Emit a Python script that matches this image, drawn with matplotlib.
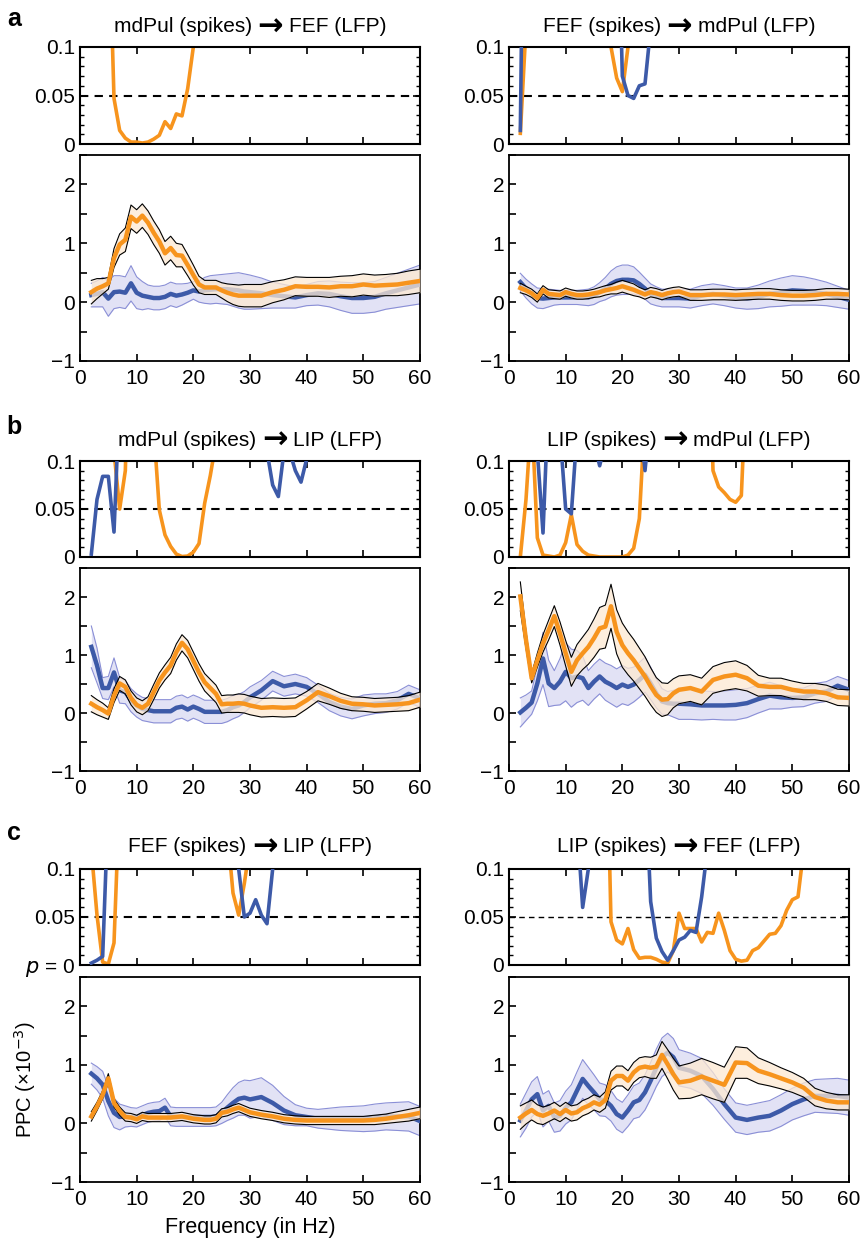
import numpy as np
import matplotlib
matplotlib.use("Agg")
import matplotlib.pyplot as plt
from matplotlib.ticker import MultipleLocator
from matplotlib.offsetbox import TextArea, HPacker, AnchoredOffsetbox

plt.rcParams["font.family"] = ["Liberation Sans", "DejaVu Sans"]

# frequency grid of the PPC spectra (Hz)
FREQ = list(range(2, 31)) + list(range(32, 61, 2))

# ---- PPC (x10^-3): mean and half width of the band, blue / orange ----
AL_BLUE = [0.12, 0.14, 0.17, 0.06, 0.17, 0.18, 0.16, 0.32, 0.16, 0.11, 0.09, 0.07, 0.07, 0.09, 0.14,
           0.11, 0.13, 0.16, 0.20, 0.18, 0.20, 0.21, 0.22, 0.22, 0.22, 0.21, 0.20, 0.18, 0.17,
           0.15, 0.12, 0.10, 0.08, 0.12, 0.15, 0.14, 0.10, 0.07, 0.07, 0.09, 0.15, 0.20, 0.25, 0.30]
AL_BLUE_HW = [0.20, 0.22, 0.25, 0.30, 0.28, 0.27, 0.27, 0.30, 0.27, 0.24, 0.20, 0.20, 0.20, 0.20, 0.20,
              0.20, 0.18, 0.16, 0.15, 0.18, 0.22, 0.24, 0.24, 0.25, 0.26, 0.28, 0.30, 0.30, 0.29,
              0.26, 0.22, 0.20, 0.18, 0.18, 0.20, 0.22, 0.24, 0.26, 0.26, 0.26, 0.27, 0.29, 0.31, 0.33]
AL_ORANGE = [0.17, 0.23, 0.27, 0.32, 0.75, 0.98, 1.06, 1.45, 1.37, 1.47, 1.35, 1.18, 1.03, 0.83, 0.92,
             0.80, 0.79, 0.63, 0.46, 0.30, 0.25, 0.25, 0.25, 0.20, 0.16, 0.13, 0.11, 0.11, 0.11,
             0.11, 0.17, 0.21, 0.27, 0.26, 0.26, 0.25, 0.27, 0.27, 0.30, 0.28, 0.29, 0.30, 0.33, 0.36]
AL_ORANGE_HW = [0.20, 0.17, 0.13, 0.10, 0.16, 0.18, 0.20, 0.20, 0.20, 0.20, 0.20, 0.20, 0.20, 0.20, 0.20,
                0.20, 0.19, 0.18, 0.17, 0.14, 0.12, 0.12, 0.12, 0.13, 0.15, 0.17, 0.18, 0.19, 0.19,
                0.19, 0.18, 0.17, 0.16, 0.16, 0.16, 0.17, 0.17, 0.18, 0.18, 0.18, 0.18, 0.19, 0.20, 0.20]

AR_BLUE = [0.34, 0.23, 0.14, 0.07, 0.06, 0.07, 0.08, 0.08, 0.08, 0.08, 0.08, 0.08, 0.08, 0.11, 0.17,
           0.23, 0.31, 0.36, 0.38, 0.38, 0.37, 0.31, 0.23, 0.14, 0.10, 0.07, 0.07, 0.07, 0.07,
           0.06, 0.11, 0.14, 0.11, 0.07, 0.06, 0.09, 0.14, 0.17, 0.20, 0.19, 0.17, 0.14, 0.09, 0.04]
AR_BLUE_HW = [0.15, 0.16, 0.17, 0.17, 0.17, 0.15, 0.13, 0.12, 0.12, 0.12, 0.12, 0.13, 0.14, 0.15, 0.16,
              0.19, 0.22, 0.24, 0.25, 0.25, 0.23, 0.20, 0.18, 0.17, 0.16, 0.15, 0.15, 0.15, 0.15,
              0.16, 0.17, 0.17, 0.17, 0.17, 0.18, 0.20, 0.22, 0.24, 0.25, 0.24, 0.22, 0.20, 0.18, 0.16]
AR_ORANGE = [0.24, 0.20, 0.15, 0.07, 0.21, 0.14, 0.13, 0.12, 0.17, 0.14, 0.12, 0.12, 0.13, 0.15, 0.17,
             0.20, 0.22, 0.24, 0.27, 0.24, 0.21, 0.17, 0.13, 0.17, 0.15, 0.12, 0.15, 0.17, 0.18,
             0.12, 0.12, 0.13, 0.13, 0.12, 0.13, 0.14, 0.14, 0.12, 0.11, 0.11, 0.12, 0.14, 0.14, 0.13]
AR_ORANGE_HW = [0.08, 0.07, 0.07, 0.07, 0.07, 0.07, 0.07, 0.07, 0.07, 0.07, 0.07, 0.07, 0.07, 0.07, 0.08,
                0.08, 0.08, 0.10, 0.10, 0.10, 0.10, 0.08, 0.08, 0.08, 0.08, 0.08, 0.08, 0.08, 0.08,
                0.09, 0.09, 0.09, 0.09, 0.09, 0.09, 0.09, 0.09, 0.09, 0.09, 0.09, 0.09, 0.09, 0.09, 0.09]

BL_BLUE = [1.14, 0.82, 0.43, 0.43, 0.70, 0.39, 0.36, 0.22, 0.13, 0.07, 0.05, 0.03, 0.03, 0.03, 0.03,
           0.09, 0.11, 0.06, 0.11, 0.07, 0.02, 0.02, 0.02, 0.02, 0.05, 0.10, 0.13, 0.19, 0.27,
           0.39, 0.55, 0.46, 0.50, 0.45, 0.33, 0.19, 0.11, 0.07, 0.13, 0.16, 0.17, 0.22, 0.33, 0.25]
BL_BLUE_HW = [0.36, 0.30, 0.18, 0.20, 0.25, 0.22, 0.20, 0.20, 0.20, 0.20, 0.20, 0.20, 0.20, 0.20, 0.20,
              0.20, 0.20, 0.20, 0.20, 0.20, 0.20, 0.20, 0.20, 0.20, 0.20, 0.20, 0.19, 0.18, 0.18,
              0.17, 0.17, 0.17, 0.17, 0.16, 0.15, 0.15, 0.16, 0.17, 0.18, 0.17, 0.16, 0.15, 0.15, 0.15]
BL_ORANGE = [0.16, 0.10, 0.05, -0.01, 0.30, 0.51, 0.45, 0.26, 0.14, 0.09, 0.16, 0.36, 0.56, 0.70, 0.82,
             1.05, 1.21, 1.10, 0.90, 0.70, 0.53, 0.43, 0.33, 0.15, 0.16, 0.16, 0.17, 0.16, 0.13,
             0.09, 0.10, 0.09, 0.10, 0.22, 0.36, 0.29, 0.21, 0.16, 0.15, 0.13, 0.14, 0.15, 0.17, 0.23]
BL_ORANGE_HW = [0.14, 0.13, 0.12, 0.10, 0.12, 0.12, 0.12, 0.12, 0.12, 0.12, 0.12, 0.13, 0.13, 0.13, 0.14,
                0.14, 0.14, 0.15, 0.15, 0.15, 0.15, 0.15, 0.15, 0.15, 0.15, 0.15, 0.16, 0.16, 0.16,
                0.16, 0.16, 0.16, 0.16, 0.15, 0.15, 0.14, 0.13, 0.12, 0.12, 0.12, 0.12, 0.12, 0.13, 0.13]

BR_BLUE = [0.01, 0.09, 0.18, 0.51, 0.94, 0.51, 0.43, 0.54, 0.71, 0.60, 0.63, 0.60, 0.43, 0.54, 0.63,
           0.54, 0.49, 0.43, 0.49, 0.45, 0.49, 0.57, 0.66, 0.51, 0.34, 0.20, 0.17, 0.16, 0.16,
           0.15, 0.13, 0.13, 0.13, 0.14, 0.17, 0.24, 0.30, 0.27, 0.26, 0.27, 0.34, 0.37, 0.47, 0.40]
BR_BLUE_HW = [0.25, 0.22, 0.20, 0.30, 0.45, 0.40, 0.30, 0.40, 0.50, 0.50, 0.45, 0.38, 0.30, 0.30, 0.30,
              0.32, 0.33, 0.33, 0.33, 0.32, 0.30, 0.30, 0.30, 0.28, 0.25, 0.22, 0.20, 0.23, 0.27,
              0.26, 0.25, 0.24, 0.25, 0.26, 0.25, 0.24, 0.23, 0.20, 0.16, 0.16, 0.17, 0.17, 0.16, 0.16]
BR_ORANGE = [2.01, 1.26, 0.60, 0.91, 1.20, 1.43, 1.67, 1.37, 1.03, 0.71, 0.91, 1.03, 1.14, 1.29, 1.46,
             1.49, 1.84, 1.40, 1.17, 1.03, 0.91, 0.77, 0.63, 0.46, 0.31, 0.23, 0.24, 0.34, 0.40,
             0.43, 0.37, 0.57, 0.63, 0.66, 0.60, 0.47, 0.45, 0.45, 0.40, 0.37, 0.37, 0.34, 0.27, 0.26]
BR_ORANGE_HW = [0.25, 0.15, 0.08, 0.12, 0.15, 0.17, 0.18, 0.20, 0.22, 0.25, 0.27, 0.28, 0.30, 0.33, 0.36,
                0.37, 0.38, 0.38, 0.38, 0.37, 0.36, 0.35, 0.34, 0.32, 0.30, 0.29, 0.27, 0.25, 0.24,
                0.23, 0.23, 0.23, 0.24, 0.24, 0.22, 0.18, 0.15, 0.15, 0.15, 0.14, 0.14, 0.14, 0.14, 0.14]

CL_BLUE = [0.85, 0.77, 0.66, 0.38, 0.18, 0.11, 0.12, 0.11, 0.10, 0.14, 0.18, 0.20, 0.21, 0.27, 0.12,
           0.11, 0.11, 0.11, 0.11, 0.11, 0.11, 0.11, 0.12, 0.18, 0.27, 0.35, 0.42, 0.44, 0.41,
           0.45, 0.35, 0.22, 0.14, 0.11, 0.08, 0.08, 0.08, 0.08, 0.08, 0.10, 0.12, 0.12, 0.12, 0.04]
CL_BLUE_HW = [0.18, 0.20, 0.23, 0.25, 0.25, 0.22, 0.18, 0.16, 0.16, 0.16, 0.16, 0.16, 0.16, 0.16, 0.16,
              0.16, 0.16, 0.16, 0.16, 0.16, 0.16, 0.16, 0.16, 0.18, 0.22, 0.26, 0.28, 0.30, 0.32,
              0.33, 0.30, 0.24, 0.18, 0.15, 0.16, 0.18, 0.20, 0.21, 0.22, 0.23, 0.23, 0.24, 0.25, 0.25]
CL_ORANGE = [0.12, 0.29, 0.49, 0.77, 0.35, 0.21, 0.11, 0.10, 0.07, 0.12, 0.10, 0.10, 0.10, 0.10, 0.10,
             0.11, 0.12, 0.10, 0.08, 0.07, 0.06, 0.06, 0.08, 0.18, 0.20, 0.24, 0.27, 0.23, 0.19,
             0.15, 0.12, 0.08, 0.06, 0.05, 0.05, 0.05, 0.05, 0.05, 0.05, 0.06, 0.08, 0.11, 0.14, 0.18]
CL_ORANGE_HW = [0.08, 0.07, 0.07, 0.08, 0.07, 0.07, 0.07, 0.07, 0.07, 0.07, 0.07, 0.07, 0.07, 0.07, 0.07,
                0.07, 0.07, 0.07, 0.07, 0.07, 0.07, 0.07, 0.07, 0.07, 0.07, 0.07, 0.07, 0.07, 0.07,
                0.07, 0.07, 0.07, 0.07, 0.07, 0.07, 0.07, 0.07, 0.07, 0.07, 0.08, 0.08, 0.09, 0.10, 0.10]

CR_BLUE = [0.05, 0.22, 0.41, 0.50, 0.22, 0.30, 0.10, 0.13, 0.27, 0.36, 0.56, 0.76, 0.64, 0.53, 0.41,
           0.39, 0.30, 0.16, 0.10, 0.22, 0.36, 0.40, 0.53, 0.73, 0.95, 1.13, 1.21, 1.13, 0.95,
           0.90, 0.81, 0.59, 0.33, 0.10, 0.06, 0.10, 0.13, 0.22, 0.33, 0.41, 0.47, 0.47, 0.47, 0.44]
CR_BLUE_HW = [0.28, 0.30, 0.30, 0.30, 0.28, 0.26, 0.25, 0.26, 0.28, 0.30, 0.32, 0.33, 0.32, 0.30, 0.28,
              0.27, 0.26, 0.26, 0.26, 0.27, 0.28, 0.29, 0.30, 0.31, 0.32, 0.33, 0.33, 0.32, 0.31,
              0.30, 0.30, 0.28, 0.26, 0.25, 0.25, 0.25, 0.26, 0.27, 0.27, 0.28, 0.28, 0.29, 0.30, 0.30]
CR_ORANGE = [0.10, 0.17, 0.23, 0.16, 0.13, 0.17, 0.22, 0.16, 0.23, 0.17, 0.19, 0.26, 0.30, 0.36, 0.32,
             0.40, 0.73, 0.81, 0.81, 0.73, 0.87, 0.95, 0.97, 0.95, 0.97, 1.17, 1.01, 0.84, 0.70,
             0.73, 0.80, 0.73, 0.66, 1.04, 1.03, 0.90, 0.84, 0.77, 0.70, 0.61, 0.45, 0.39, 0.36, 0.36]
CR_ORANGE_HW = [0.20, 0.18, 0.17, 0.16, 0.15, 0.14, 0.14, 0.13, 0.13, 0.13, 0.13, 0.13, 0.13, 0.13, 0.13,
                0.14, 0.16, 0.17, 0.17, 0.17, 0.17, 0.17, 0.17, 0.18, 0.20, 0.23, 0.25, 0.27, 0.28,
                0.30, 0.31, 0.31, 0.30, 0.27, 0.26, 0.22, 0.20, 0.18, 0.17, 0.16, 0.15, 0.14, 0.13, 0.13]

# ---- p-values (points above 0.1 fall outside the axis) ----
PAL_BLUE_F, PAL_BLUE = [], []
PAL_ORANGE_F = list(range(5, 22))
PAL_ORANGE = [0.25, 0.047, 0.014, 0.006, 0.002, 0.002, 0.001, 0.002, 0.005, 0.009, 0.023, 0.016,
              0.031, 0.029, 0.057, 0.1, 0.3]

PAR_BLUE_F = [2, 3, 19, 20, 21, 22, 23, 24, 25, 26]
PAR_BLUE = [0.014, 0.5, 0.3, 0.07, 0.05, 0.047, 0.06, 0.062, 0.12, 0.5]
PAR_ORANGE_F = [2, 3, 4, 17, 18, 19, 20, 21, 22]
PAR_ORANGE = [0.011, 0.12, 0.5, 0.3, 0.1, 0.068, 0.054, 0.1, 0.3]

PBL_BLUE_F = [2, 3, 4, 5, 6, 7, 32, 33, 34, 35, 36, 37, 38, 39, 40, 41]
PBL_BLUE = [0.003, 0.06, 0.084, 0.084, 0.026, 0.17, 0.3, 0.11, 0.075, 0.063, 0.11, 0.11, 0.09,
            0.078, 0.102, 0.3]
PBL_ORANGE_F = [5, 6, 7, 8, 9, 12, 13, 14, 15, 16, 17, 18, 19, 20, 21, 22, 23, 24, 25]
PBL_ORANGE = [0.3, 0.11, 0.05, 0.09, 0.3, 0.3, 0.135, 0.049, 0.023, 0.011, 0.003, 0.0005, 0.001,
              0.005, 0.014, 0.056, 0.085, 0.12, 0.3]

PBR_BLUE_F = [5, 6, 7, 9, 10, 11, 12, 15, 16, 17, 23, 24, 25]
PBR_BLUE = [0.11, 0.025, 0.17, 0.13, 0.05, 0.045, 0.13, 0.12, 0.095, 0.12, 0.15, 0.09, 0.15]
PBR_ORANGE_F = list(range(2, 26)) + list(range(35, 43))
PBR_ORANGE = [0.0, 0.06, 0.15, 0.02, 0.002, 0.001, 0.0, 0.002, 0.015, 0.044, 0.013, 0.006, 0.002,
              0.001, 0.0, 0.0, 0.0, 0.0, 0.0, 0.002, 0.009, 0.04, 0.15, 0.3,
              0.3, 0.09, 0.073, 0.067, 0.06, 0.057, 0.064, 0.2]

PCL_BLUE_F = [2, 3, 4, 5, 27, 28, 29, 30, 31, 32, 33, 34, 35]
PCL_BLUE = [0.002, 0.005, 0.009, 0.17, 0.3, 0.1, 0.05, 0.054, 0.068, 0.052, 0.043, 0.1, 0.3]
PCL_ORANGE_F = [2, 3, 4, 5, 6, 7, 26, 27, 28, 29, 30]
PCL_ORANGE = [0.12, 0.052, 0.003, 0.001, 0.023, 0.18, 0.14, 0.075, 0.052, 0.085, 0.125]

PCR_BLUE_F = [12, 13, 14, 15] + list(range(24, 36))
PCR_BLUE = [0.15, 0.06, 0.1, 0.3, 0.2, 0.066, 0.028, 0.014, 0.005, 0.015, 0.026, 0.029, 0.036,
            0.034, 0.071, 0.12]
PCR_ORANGE_F = list(range(17, 53))
PCR_ORANGE = [0.3, 0.045, 0.026, 0.022, 0.038, 0.016, 0.007, 0.008, 0.008, 0.006, 0.003, 0.002,
              0.015, 0.054, 0.038, 0.038, 0.038, 0.024, 0.034, 0.033, 0.054, 0.036, 0.015, 0.006,
              0.004, 0.005, 0.015, 0.018, 0.025, 0.032, 0.033, 0.041, 0.057, 0.068, 0.071, 0.12]

# (spikes area, LFP area) for each panel
TITLES = [("mdPul (spikes)", "FEF (LFP)"), ("FEF (spikes)", "mdPul (LFP)"),
          ("mdPul (spikes)", "LIP (LFP)"), ("LIP (spikes)", "mdPul (LFP)"),
          ("FEF (spikes)", "LIP (LFP)"), ("LIP (spikes)", "FEF (LFP)")]
LETTERS = ["a", "b", "c"]

BLUE = "#3d5aa8"
BLUE_FILL = "#e2e2f5"
BLUE_EDGE = "#8a8fd6"
ORANGE = "#f7941d"
ORANGE_FILL = "#fde9d2"

W, H = 862, 1240


def fx(px):
    return px / W


def fy(py):
    return 1 - py / H


def style_p_axis(ax, first_label):
    ax.set_xlim(0, 60)
    ax.set_ylim(0, 0.1)
    ax.set_yticks([0, 0.05, 0.1])
    ax.set_yticklabels([first_label, "0.05", "0.1"])
    ax.yaxis.set_minor_locator(MultipleLocator(0.01))
    ax.set_xticks(range(0, 61, 10))
    ax.set_xticklabels([])
    ax.tick_params(which="both", direction="in", top=True, right=True, labelsize=15)
    ax.tick_params(which="major", length=5, width=1.2)
    ax.tick_params(which="minor", length=3, width=1.0)
    for s in ax.spines.values():
        s.set_linewidth(1.5)


def style_ppc_axis(ax):
    ax.set_xlim(0, 60)
    ax.set_ylim(-1, 2.5)
    ax.set_yticks([-1, 0, 1, 2])
    ax.set_yticklabels(["\u22121", "0", "1", "2"])
    ax.yaxis.set_minor_locator(MultipleLocator(0.5))
    ax.set_xticks(range(0, 61, 10))
    ax.tick_params(which="both", direction="in", labelsize=15, length=5, width=1.2)
    ax.tick_params(axis="x", pad=6)
    for s in ax.spines.values():
        s.set_linewidth(1.3)


def draw_ppc(ax, blue, blue_hw, orange, orange_hw):
    f = np.array(FREQ)
    b, bh = np.array(blue), np.array(blue_hw)
    o, oh = np.array(orange), np.array(orange_hw)
    ax.fill_between(f, b - bh, b + bh, color=BLUE_FILL, lw=0, zorder=1)
    ax.plot(f, b - bh, color=BLUE_EDGE, lw=0.8, zorder=2)
    ax.plot(f, b + bh, color=BLUE_EDGE, lw=0.8, zorder=2)
    ax.plot(f, b, color=BLUE, lw=3.2, zorder=3)
    ax.fill_between(f, o - oh, o + oh, color=ORANGE_FILL, alpha=0.75, lw=0, zorder=4)
    ax.plot(f, o - oh, color="black", lw=0.8, zorder=5)
    ax.plot(f, o + oh, color="black", lw=0.8, zorder=5)
    ax.plot(f, o, color=ORANGE, lw=3.2, zorder=6)


def draw_p(ax, bf, bv, of, ov, dash_lw=1.5):
    ax.axhline(0.05, color="black", ls=(0, (4, 3)), lw=dash_lw, zorder=1)
    if bf:
        ax.plot(bf, bv, color=BLUE, lw=2.6, zorder=3)
    if of:
        ax.plot(of, ov, color=ORANGE, lw=2.6, zorder=2)


def add_title(fig, xc, yc, left, right):
    parts = [TextArea(left, textprops=dict(fontsize=15)),
             TextArea("\u2192", textprops=dict(fontsize=22, fontweight="bold",
                                                family="DejaVu Sans")),
             TextArea(right, textprops=dict(fontsize=15))]
    box = HPacker(children=parts, align="center", pad=0, sep=4)
    anchored = AnchoredOffsetbox(loc="center", child=box, pad=0, borderpad=0, frameon=False,
                                 bbox_to_anchor=(fx(xc), fy(yc)),
                                 bbox_transform=fig.transFigure)
    fig.add_artist(anchored)


def main():
    fig = plt.figure(figsize=(W / 100, H / 100), dpi=100)

    cols_x = [80, 509]
    col_w = 340
    # (p-axis top, p-axis bottom, ppc top, ppc bottom) in pixels
    rows_y = [(47, 144, 155, 361), (461, 557, 568, 771), (869, 965, 977, 1182)]
    title_y = [27, 440, 847]
    letter_y = [19, 427, 833]

    ppc = [(AL_BLUE, AL_BLUE_HW, AL_ORANGE, AL_ORANGE_HW),
           (AR_BLUE, AR_BLUE_HW, AR_ORANGE, AR_ORANGE_HW),
           (BL_BLUE, BL_BLUE_HW, BL_ORANGE, BL_ORANGE_HW),
           (BR_BLUE, BR_BLUE_HW, BR_ORANGE, BR_ORANGE_HW),
           (CL_BLUE, CL_BLUE_HW, CL_ORANGE, CL_ORANGE_HW),
           (CR_BLUE, CR_BLUE_HW, CR_ORANGE, CR_ORANGE_HW)]
    pvals = [(PAL_BLUE_F, PAL_BLUE, PAL_ORANGE_F, PAL_ORANGE),
             (PAR_BLUE_F, PAR_BLUE, PAR_ORANGE_F, PAR_ORANGE),
             (PBL_BLUE_F, PBL_BLUE, PBL_ORANGE_F, PBL_ORANGE),
             (PBR_BLUE_F, PBR_BLUE, PBR_ORANGE_F, PBR_ORANGE),
             (PCL_BLUE_F, PCL_BLUE, PCL_ORANGE_F, PCL_ORANGE),
             (PCR_BLUE_F, PCR_BLUE, PCR_ORANGE_F, PCR_ORANGE)]

    for r, (pt, pb, qt, qb) in enumerate(rows_y):
        fig.text(fx(14), fy(letter_y[r]), LETTERS[r], fontsize=18, fontweight="bold",
                 ha="center", va="center")
        for c, x0 in enumerate(cols_x):
            k = 2 * r + c
            axp = fig.add_axes([fx(x0), fy(pb), col_w / W, (pb - pt) / H])
            axq = fig.add_axes([fx(x0), fy(qb), col_w / W, (qb - qt) / H])

            first = "$p$ = 0" if k == 4 else "0"
            draw_p(axp, *pvals[k], dash_lw=1.0 if k == 5 else 1.5)
            style_p_axis(axp, first)

            draw_ppc(axq, *ppc[k])
            style_ppc_axis(axq)

            add_title(fig, x0 + col_w / 2, title_y[r], *TITLES[k])

    fig.text(fx(25), fy(1080), "PPC (\u00d710$^{-3}$)", fontsize=14.5, rotation=90,
             ha="center", va="center")
    fig.text(fx(250), fy(1228), "Frequency (in Hz)", fontsize=15.5, ha="center", va="center")

    fig.savefig("out.png", dpi=100)
    plt.close(fig)


if __name__ == "__main__":
    main()
